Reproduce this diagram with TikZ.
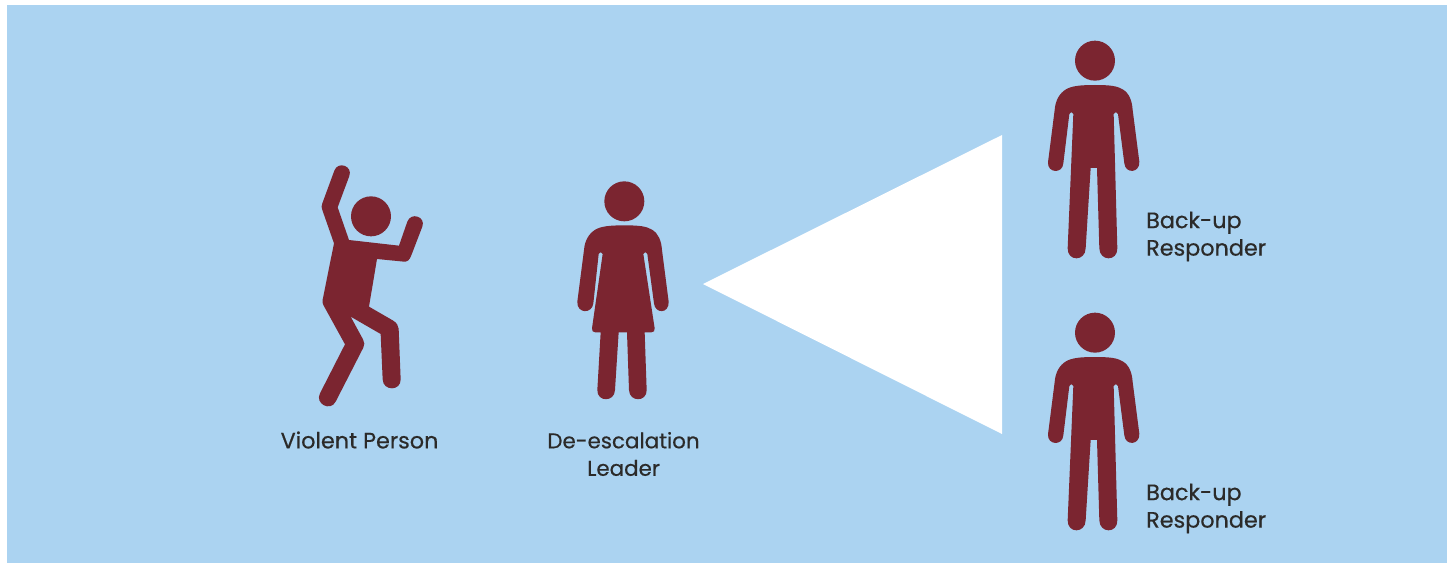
\documentclass[tikz,border=0pt]{standalone}
\usepackage{fontspec}
\setmainfont[FakeBold=0.45]{Poppins}
\definecolor{skybg}{HTML}{ABD3F1}
\definecolor{maroon}{HTML}{7B2530}
\definecolor{labelink}{HTML}{2B2A29}
\tikzset{
  figfill/.style={fill=maroon,draw=none},
  figlabel/.style={text=labelink,font=\fontsize{22.3}{27.5}\selectfont,align=center,inner sep=0pt},
  zoomed/.style={x=0.3333pt,y=-0.3333pt}
}
\newcommand{\malefigure}{%
  \fill[figfill] (195,92) circle[radius=60];
  \fill[figfill] (195,165) .. controls (150,165) and (125,168) .. (108,178)
    .. controls (88,190) and (76,212) .. (74,240)
    -- (54,397) .. controls (52,430) and (98,432) .. (100,400)
    -- (118,252) .. controls (119,245) and (129,244) .. (130,252)
    -- (113,655) .. controls (112,695) and (166,695) .. (167,655)
    -- (182,414) -- (201,414)
    -- (208,655) .. controls (209,695) and (263,695) .. (262,655)
    -- (251,252) .. controls (252,244) and (263,245) .. (264,252)
    -- (283,400) .. controls (286,432) and (330,430) .. (328,395)
    -- (308,240) .. controls (306,212) and (298,190) .. (278,178)
    .. controls (262,168) and (240,165) .. (195,165) -- cycle;
}
\begin{document}
\begin{tikzpicture}[x=1pt,y=-1pt]
\useasboundingbox (0,0) rectangle (1448,563);
\fill[skybg] (7,5) rectangle (1447,563);
\fill[white] (703,284) -- (1002,135) -- (1002,434) -- cycle;

% violent person
\begin{scope}[shift={(290,150)},zoomed]
  \fill[figfill] (243,199) circle[radius=60];
  \fill[figfill] (133,62) .. controls (144,32) and (189,48) .. (178,78)
    -- (143,172) -- (177,270) -- (327,287) -- (352,215)
    .. controls (363,185) and (408,200) .. (397,230)
    -- (364,316) .. controls (359,330) and (352,336) .. (342,335)
    -- (261,327) -- (237,470) -- (308,511)
    .. controls (320,518) and (325,526) .. (326,536)
    -- (332,688) .. controls (333,724) and (279,724) .. (278,688)
    -- (272,552) -- (182,500) -- (219,568)
    .. controls (224,577) and (224,585) .. (220,593)
    -- (137,755) .. controls (121,786) and (74,761) .. (90,730)
    -- (165,583) -- (100,465)
    .. controls (97,460) and (97,455) .. (98,449)
    -- (132,280) -- (97,180)
    .. controls (94,172) and (94,168) .. (97,160) -- cycle;
\end{scope}

% leader
\begin{scope}[shift={(560,170)},zoomed]
  \fill[figfill] (193,94) circle[radius=60];
  \fill[figfill] (193,166) .. controls (148,166) and (123,169) .. (106,179)
    .. controls (86,191) and (74,213) .. (72,240)
    -- (52,395) .. controls (50,432) and (97,432) .. (100,400)
    -- (116,252) .. controls (117,245) and (127,244) .. (128,252)
    -- (96,475) .. controls (95,483) and (99,487) .. (106,487)
    -- (122,487)
    -- (112,660) .. controls (111,697) and (164,697) .. (165,660)
    -- (176,487) -- (201,487)
    -- (207,660) .. controls (208,697) and (261,697) .. (260,660)
    -- (254,487) -- (274,487)
    .. controls (281,487) and (285,483) .. (284,475)
    -- (250,252) .. controls (251,244) and (261,245) .. (262,252)
    -- (282,400) .. controls (285,432) and (328,432) .. (326,395)
    -- (306,240) .. controls (304,213) and (296,191) .. (276,179)
    .. controls (260,169) and (238,166) .. (193,166) -- cycle;
\end{scope}

% responders
\begin{scope}[shift={(1030,30)},zoomed]
  \malefigure
\end{scope}
\begin{scope}[shift={(1030,302)},zoomed]
  \malefigure
\end{scope}

\node[figlabel] (violent) at (359.5,440) {Violent Person};
\node[figlabel,font=\fontsize{21.4}{27.5}\selectfont] (leader) at (623.5,454) {De-escalation\\Leader};
\node[figlabel,align=left,anchor=west] (backa) at (1146,236.5) {Back-up\\Responder};
\node[figlabel,align=left,anchor=west] (backb) at (1146,508.5) {Back-up\\Responder};
\end{tikzpicture}
\end{document}
